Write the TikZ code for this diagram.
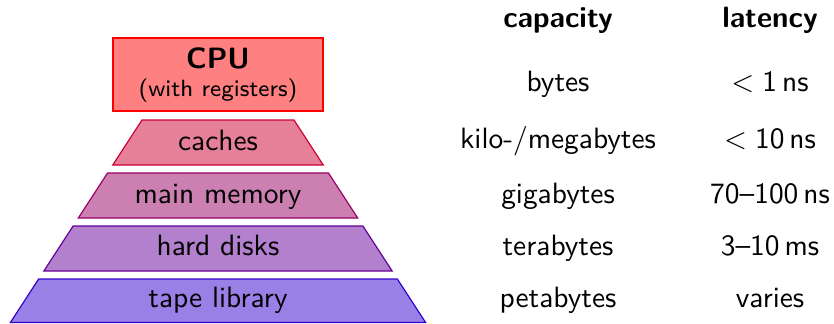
\documentclass[tikz,border=0pt]{standalone}
\usepackage{fontspec}
\begin{document}
\begin{tikzpicture}[x=0.34pt,y=-0.34pt, font=\sffamily,
  lvl/.style={line width=0.4pt},
  lbl/.style={anchor=base, inner sep=0pt},
  hdr/.style={anchor=base, inner sep=0pt, font=\sffamily\bfseries}]
\useasboundingbox (0,0) rectangle (834,323);
\colorlet{cA}{red}
\colorlet{cB}{red!80!blue}
\colorlet{cC}{red!60!blue}
\colorlet{cD}{red!40!blue}
\colorlet{cE}{red!20!blue}
% CPU
\draw[lvl, draw=cA, fill=cA!50] (113,38) rectangle (323,111);
\node[hdr] (cpu) at (218,68) {CPU};
\node[lbl, font=\sffamily\footnotesize] (reg) at (218,96) {(with registers)};
% caches
\draw[lvl, draw=cB, fill=cB!50] (142,120) -- (294,120) -- (323.25,165) -- (112.75,165) -- cycle;
\node[lbl] (caches) at (218,150) {caches};
% main memory
\draw[lvl, draw=cC, fill=cC!50] (107.55,173) -- (328.45,173) -- (357.7,218) -- (78.3,218) -- cycle;
\node[lbl] (mem) at (218,203) {main memory};
% hard disks
\draw[lvl, draw=cD, fill=cD!50] (73.1,226) -- (362.9,226) -- (392.15,271) -- (43.85,271) -- cycle;
\node[lbl] (disk) at (218,255) {hard disks};
% tape library
\draw[lvl, draw=cE, fill=cE!50] (38.65,279) -- (397.35,279) -- (425.6,322.5) -- (10.4,322.5) -- cycle;
\node[lbl] (tape) at (218,307) {tape library};
% table
\node[hdr] (hcap) at (558,27) {capacity};
\node[hdr] (hlat) at (770,27) {latency};
\node[lbl] (c1) at (558,91) {bytes};
\node[lbl] (l1) at (770,91) {$<$\;1\,ns};
\node[lbl] (c2) at (558,148) {kilo-/megabytes};
\node[lbl] (l2) at (770,148) {$<$\;10\,ns};
\node[lbl] (c3) at (558,203) {gigabytes};
\node[lbl] (l3) at (770,203) {70--100\,ns};
\node[lbl] (c4) at (558,255) {terabytes};
\node[lbl] (l4) at (770,255) {3--10\,ms};
\node[lbl] (c5) at (558,307) {petabytes};
\node[lbl] (l5) at (770,307) {varies};
\end{tikzpicture}
\end{document}
